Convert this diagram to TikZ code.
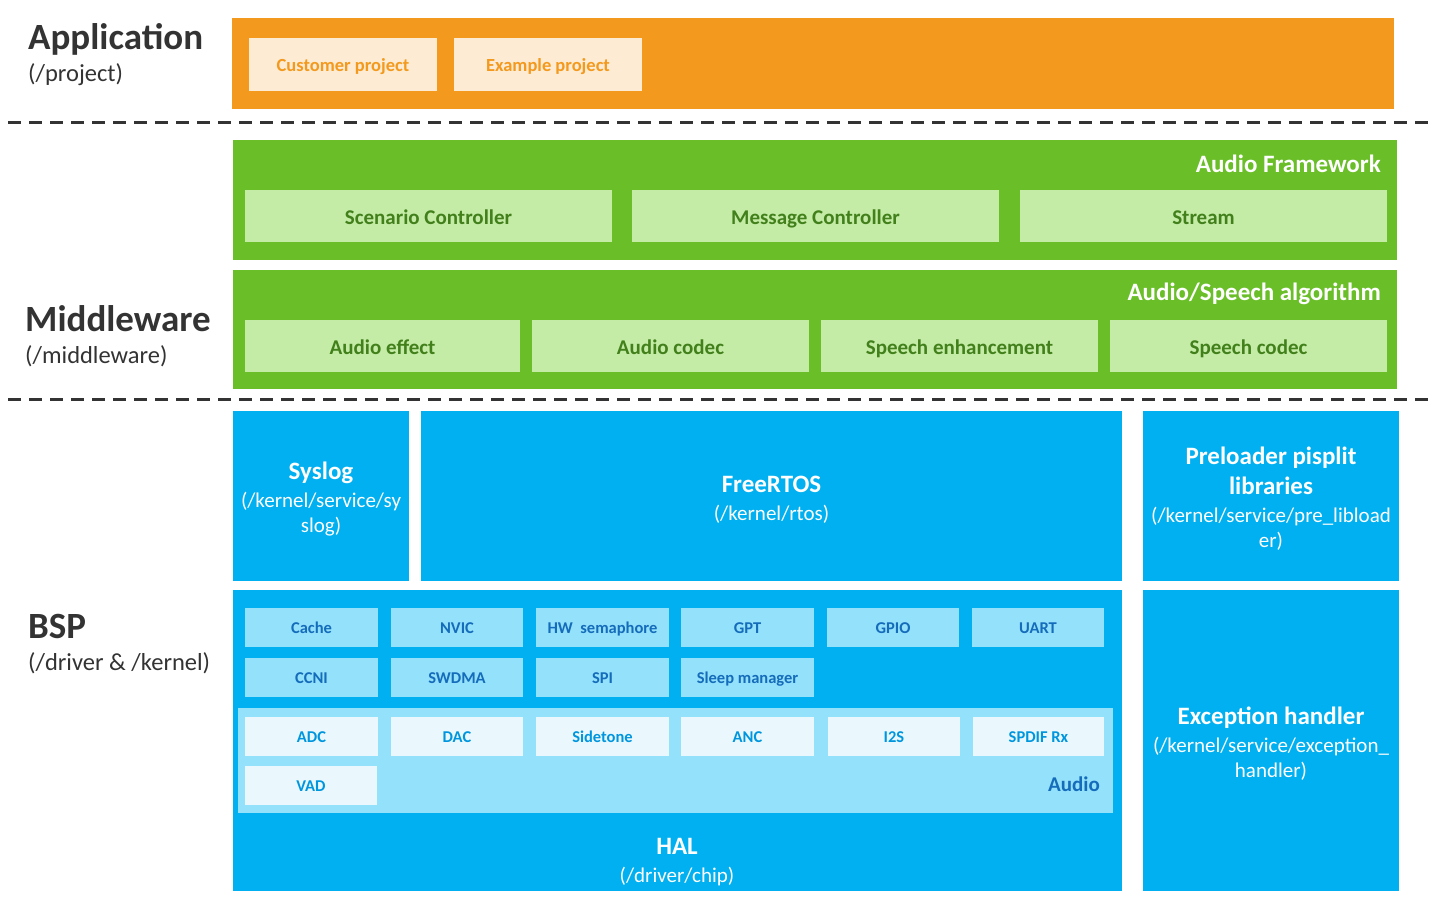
\documentclass[tikz,border=0pt]{standalone}
\usepackage{fontspec}
\setmainfont{Carlito}
\definecolor{orangeA}{RGB}{243,154,30}
\definecolor{orangeL}{RGB}{253,235,211}
\definecolor{greenA}{RGB}{106,190,40}
\definecolor{greenL}{RGB}{197,236,166}
\definecolor{greenT}{RGB}{66,128,28}
\definecolor{blueA}{RGB}{0,176,240}
\definecolor{blueL}{RGB}{148,225,252}
\definecolor{blueXL}{RGB}{234,248,254}
\definecolor{blueT}{RGB}{20,108,186}
\definecolor{blueT2}{RGB}{0,150,222}
\definecolor{darkT}{RGB}{51,51,51}
\newcommand{\fs}[2]{\fontsize{#1}{#2}\selectfont}
\newcommand{\mkbox}[7]{%
  \node[#6, minimum width={#4-#2}, minimum height={#5-#3}] (#1) at ({(#2+#4)/2},{(#3+#5)/2}) {#7};}
\tikzset{
  base/.style={rectangle, inner sep=0pt, outer sep=0pt, align=center},
  app/.style={base, fill=orangeA},
  appsub/.style={base, text height=15.9pt, text depth=1.85pt, fill=orangeL, text=orangeA, font=\fs{18.5}{22}\bfseries},
  mw/.style={base, fill=greenA},
  mwsub/.style={base, text height=19.5pt, text depth=2.1pt, fill=greenL, text=greenT, font=\fs{21}{25}\bfseries},
  bsp/.style={base, fill=blueA, text=white, font=\fs{21}{25}},
  bsptext/.style={base, text=white, font=\fs{21}{25}},
  halsub/.style={base, text height=14.4pt, text depth=1.65pt, fill=blueL, text=blueT, font=\fs{16.5}{20}\bfseries},
  audsub/.style={base, text height=14.4pt, text depth=1.65pt, fill=blueXL, text=blueT2, font=\fs{16.5}{20}\bfseries},
  layertitle/.style={anchor=west, inner sep=0pt, text=darkT, font=\fs{37}{44}\bfseries},
  layersub/.style={anchor=west, inner sep=0pt, text=darkT, font=\fs{24.5}{29}},
  boxtitle/.style={anchor=east, inner sep=0pt, text=white, font=\fs{25}{30}\bfseries},
  sep/.style={draw=darkT, line width=3pt, dash pattern=on 13pt off 8pt},
}
\newcommand{\ttl}[1]{{\fs{25}{30}\bfseries #1}}
\begin{document}
\begin{tikzpicture}[x=1pt,y=-1pt]
\useasboundingbox (0,0) rectangle (1436,900);
% Left labels
\node[layertitle] (tApp) at (28,39) {Application};
\node[layersub] (sApp) at (28,75) {(/project)};
\node[layertitle] (tMw) at (25,319) {Middleware};
\node[layersub] (sMw) at (25,356) {(/middleware)};
\node[layertitle] (tBsp) at (28,626) {BSP};
\node[layersub] (sBsp) at (28,663) {(/driver \& /kernel)};
% separators
\coordinate (s1a) at (8,122); \coordinate (s1b) at (1428,122);
\coordinate (s2a) at (8,399); \coordinate (s2b) at (1428,399);
\draw[sep] (s1a) -- (s1b);
\draw[sep] (s2a) -- (s2b);
% Application
\mkbox{appbox}{232}{18}{1394}{109}{app}{}
\mkbox{cust}{249}{38}{437}{91}{appsub}{Customer project}
\mkbox{exam}{454}{38}{642}{91}{appsub}{Example project}
% Middleware: Audio framework
\mkbox{afw}{233}{140}{1397}{260}{mw}{}
\node[boxtitle] (afwT) at (1381,164) {Audio Framework};
\mkbox{scen}{245}{190}{612}{242}{mwsub}{Scenario Controller}
\mkbox{msg}{632}{190}{999}{242}{mwsub}{Message Controller}
\mkbox{strm}{1020}{190}{1387}{242}{mwsub}{Stream}
% Audio/Speech algorithm
\mkbox{asa}{233}{270}{1397}{389}{mw}{}
\node[boxtitle] (asaT) at (1381,294) {Audio/Speech algorithm};
\mkbox{aeff}{245}{320}{520}{372}{mwsub}{Audio effect}
\mkbox{acod}{532}{320}{809}{372}{mwsub}{Audio codec}
\mkbox{senh}{821}{320}{1098}{372}{mwsub}{Speech enhancement}
\mkbox{scod}{1110}{320}{1387}{372}{mwsub}{Speech codec}
% BSP
\mkbox{syslog}{233}{411}{409}{581}{bsp}{}
\node[bsptext] (syslogT) at ([yshift=-3pt]syslog.center) {\ttl{Syslog}\\[3pt](/kernel/service/sy\\slog)};
\mkbox{rtos}{421}{411}{1122}{581}{bsp}{}
\node[bsptext] (rtosT) at ([yshift=-3.5pt]rtos.center) {\ttl{FreeRTOS}\\[3pt](/kernel/rtos)};
\mkbox{prel}{1143}{411}{1399}{581}{bsp}{}
\node[bsptext] (prelT) at ([yshift=-3pt]prel.center) {\ttl{Preloader pisplit}\\[5pt]\ttl{libraries}\\[3pt](/kernel/service/pre\_libload\\er)};
\mkbox{hal}{233}{590}{1122}{891}{bsp}{}
\node[bsptext] (halT) at (677,862) {\ttl{HAL}\\[3pt](/driver/chip)};
\mkbox{exc}{1143}{590}{1399}{891}{bsp}{}
\node[bsptext] (excT) at ([yshift=-3pt]exc.center) {\ttl{Exception handler}\\[3pt](/kernel/service/exception\_\\handler)};
% HAL row 1
\mkbox{cache}{245}{608}{378}{647}{halsub}{Cache}
\mkbox{nvic}{391}{608}{523}{647}{halsub}{NVIC}
\mkbox{hws}{536}{608}{669}{647}{halsub}{HW\ \ semaphore}
\mkbox{gpt}{681}{608}{814}{647}{halsub}{GPT}
\mkbox{gpio}{827}{608}{959}{647}{halsub}{GPIO}
\mkbox{uart}{972}{608}{1104}{647}{halsub}{UART}
% HAL row 2
\mkbox{ccni}{245}{658}{378}{697}{halsub}{CCNI}
\mkbox{swdma}{391}{658}{523}{697}{halsub}{SWDMA}
\mkbox{spi}{536}{658}{669}{697}{halsub}{SPI}
\mkbox{sleep}{681}{658}{814}{697}{halsub}{Sleep manager}
% Audio area
\mkbox{audio}{238}{708}{1113}{813}{base,fill=blueL}{}
\node[anchor=east, inner sep=0pt, text=blueT, font=\fs{21}{25}\bfseries] (audioT) at (1100,784) {Audio};
\mkbox{adc}{245}{717}{378}{756}{audsub}{ADC}
\mkbox{dac}{391}{717}{523}{756}{audsub}{DAC}
\mkbox{side}{536}{717}{669}{756}{audsub}{Sidetone}
\mkbox{anc}{681}{717}{814}{756}{audsub}{ANC}
\mkbox{iis}{828}{717}{960}{756}{audsub}{I2S}
\mkbox{spdif}{973}{717}{1104}{756}{audsub}{SPDIF Rx}
\mkbox{vad}{245}{766}{377}{805}{audsub}{VAD}
\end{tikzpicture}
\end{document}
